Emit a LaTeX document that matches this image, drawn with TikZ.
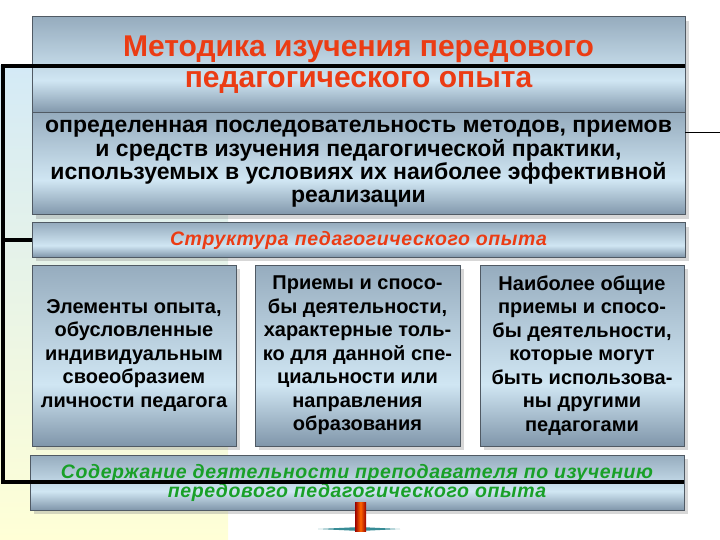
\documentclass[tikz,border=0pt]{standalone}
\usepackage{fontspec}
\setmainfont{Liberation Sans}
\usetikzlibrary{positioning,shadows}

\definecolor{boxtop}{RGB}{150,172,190}
\definecolor{boxmid}{RGB}{208,230,243}
\definecolor{boxbot}{RGB}{128,150,170}
\definecolor{boxline}{RGB}{80,90,100}
\definecolor{titlered}{RGB}{235,60,20}
\definecolor{textgreen}{RGB}{25,160,40}
\definecolor{bgblue}{RGB}{212,234,246}
\definecolor{bgyellow}{RGB}{255,255,214}
\definecolor{baseteal}{RGB}{55,140,150}

\pgfdeclareverticalshading{boxshade}{100bp}{color(0bp)=(boxbot); color(25bp)=(boxbot);
  color(42bp)=(boxmid); color(75bp)=(boxtop); color(100bp)=(boxtop)}

\tikzset{
  box/.style={draw=boxline, line width=1pt, shading=boxshade, align=center,
    inner sep=2pt, outer sep=0pt,
    drop shadow={shadow xshift=4pt, shadow yshift=-4pt, opacity=0.35, fill=black!45}},
  frame/.style={line width=4pt},
  spaced/.style={font=\fontsize{19.5}{19}\selectfont\bfseries\itshape\addfontfeature{LetterSpace=3}},
}

\begin{document}
\begin{tikzpicture}[x=1pt, y=-1pt]
  \useasboundingbox (0,0) rectangle (720,540);
  \shade[top color=bgblue, bottom color=bgyellow] (0,66) rectangle (228,540);

  % upper part
  \node[box, anchor=north west, minimum width=653pt, minimum height=96pt,
    text=titlered, font=\fontsize{30}{31}\selectfont\bfseries] (title) at (32,17)
    {Методика изучения передового\\педагогического опыта};
  \node[box, below=0pt of title, minimum width=653pt, minimum height=102pt,
    font=\fontsize{23}{23.3}\selectfont\bfseries] (descr)
    {определенная последовательность методов, приемов\\
     и средств изучения педагогической практики,\\
     используемых в условиях их наиболее эффективной\\
     реализации};
  \node[box, below=8pt of descr, minimum width=653pt, minimum height=34pt,
    text=titlered, spaced] (struct) {Структура педагогического опыта};

  % three boxes
  \tikzset{col/.style={box, minimum width=204pt, minimum height=181pt,
    font=\fontsize{20}{23.5}\selectfont\bfseries}}
  \node[col, below=8pt of struct.south west, anchor=north west] (elem)
    {Элементы опыта,\\обусловленные\\индивидуальным\\своеобразием\\личности педагога};
  \node[col, right=19pt of elem, minimum width=205pt] (meth)
    {Приемы и спосо-\\бы деятельности,\\характерные толь-\\ко для данной спе-\\циальности или\\направления\\образования};
  \node[col, right=20pt of meth] (gen)
    {Наиболее общие\\приемы и спосо-\\бы деятельности,\\которые могут\\быть использова-\\ны другими\\педагогами};

  \node[box, below=9pt of elem.south west, anchor=north west, xshift=-2pt,
    minimum width=654pt, minimum height=55pt, text=textgreen, spaced] (cont)
    {Содержание деятельности преподавателя по изучению\\передового педагогического опыта};

  % frame
  \coordinate (ftop) at (3,66);
  \coordinate (fbot) at (3,482);
  \coordinate (tick) at (720,133);
  \draw[frame] (title.east |- ftop) -- (ftop) -- (fbot) -- (cont.east |- fbot);
  \draw[frame] (ftop |- struct) -- (struct.west);
  \draw[line width=1pt] (descr.east |- tick) -- (tick);

  % stand under the diagram
  \fill[baseteal] (318,529) -- (360,527) -- (400,529) -- (360,531) -- cycle;
  \shade[left color=red!60!black, right color=red!60!black, middle color=orange!80!red]
    (355,502) rectangle (366,531);
\end{tikzpicture}
\end{document}
